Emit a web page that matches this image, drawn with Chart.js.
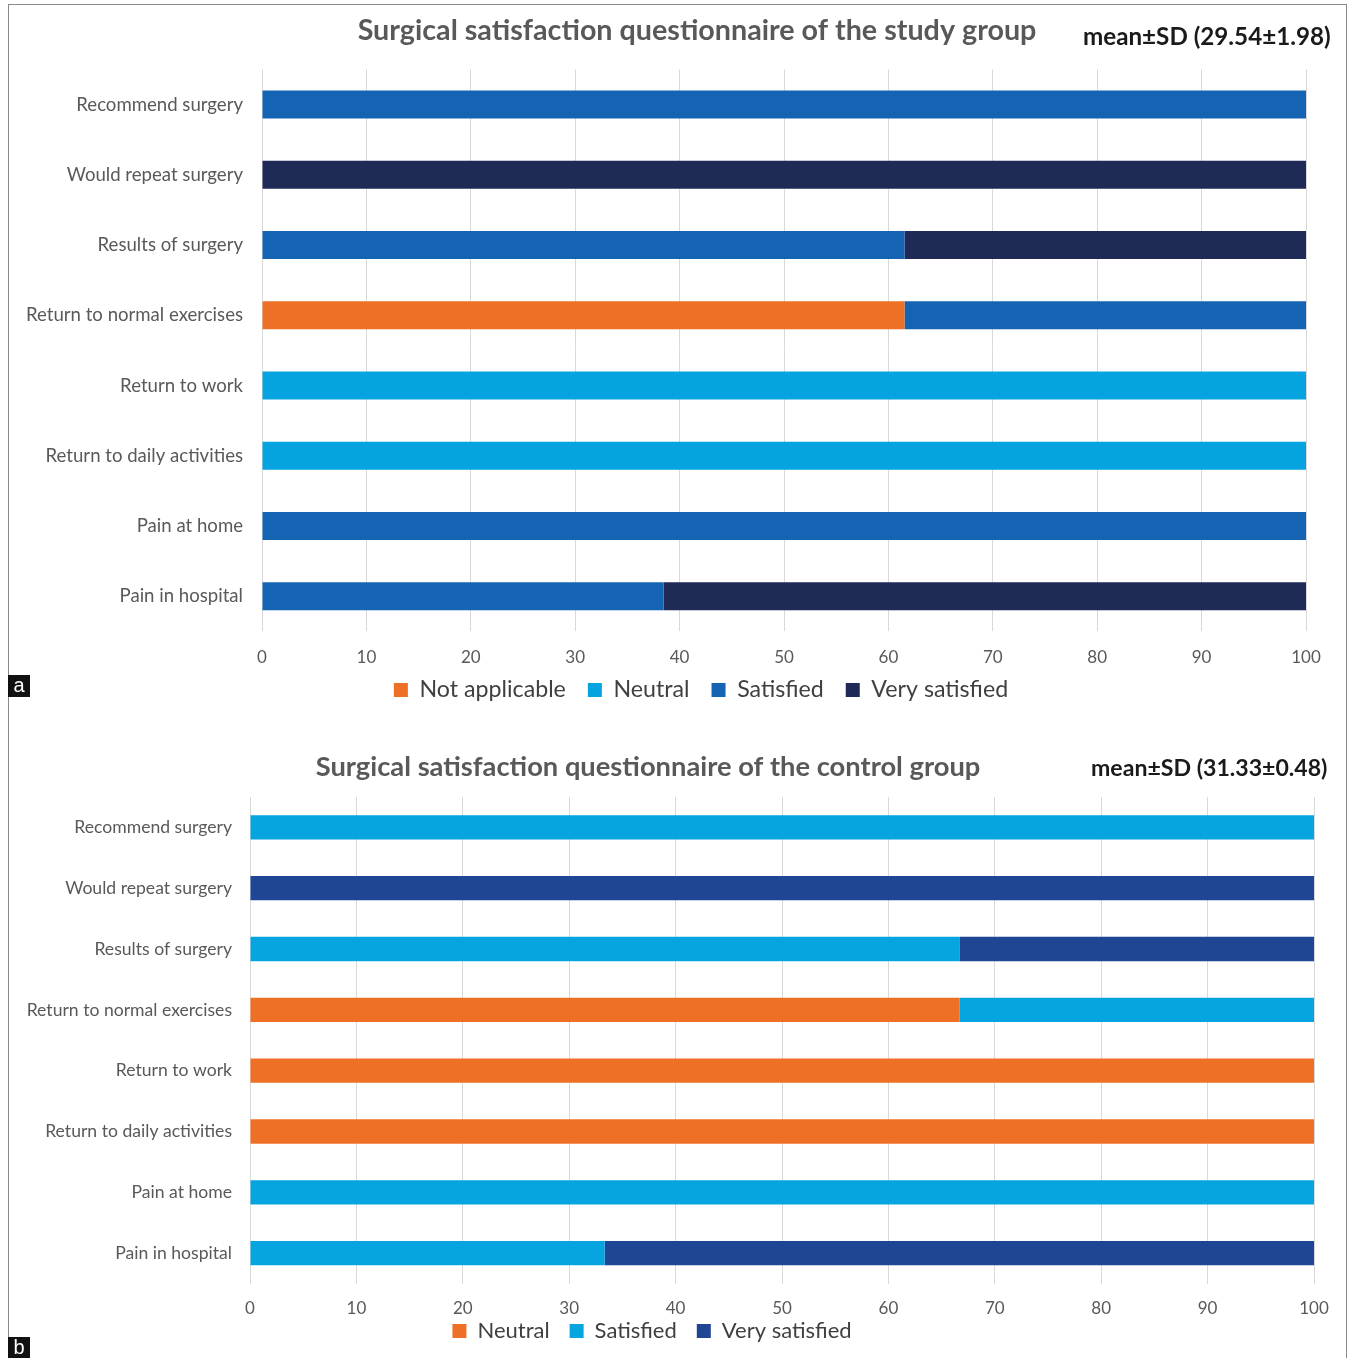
<!DOCTYPE html>
<html>
<head>
<meta charset="utf-8">
<script src="https://cdn.jsdelivr.net/npm/chart.js@4.4.1/dist/chart.umd.min.js"></script>
<style>
  html, body { margin: 0; padding: 0; background: #fff; }
  body { width: 1348px; height: 1358px; position: relative; overflow: hidden; font-family: Lato, "Open Sans", sans-serif; }
  .frame { position: absolute; left: 8px; top: 4px; width: 1339px; height: 1360px; border: 1px solid #8a8a8a; box-sizing: border-box; }
  .panel { position: absolute; }
  .stat { position: absolute; font-weight: bold; color: #1a1a1a; white-space: nowrap; line-height: 1.2; }
  .tag { position: absolute; left: 8px; width: 22px; height: 22px; background: #111; color: #fff; font-family: "Liberation Sans", Arial, sans-serif; font-size: 20px; line-height: 20px; text-align: center; }
</style>
</head>
<body>
<div class="frame"></div>

<div class="panel" style="left:0;top:0;width:1348px;height:739px;"><canvas id="chartA"></canvas></div>
<div class="panel" style="left:0;top:730px;width:1348px;height:656px;"><canvas id="chartB"></canvas></div>

<div class="stat" style="left:1083px;top:21px;font-size:24.2px;">mean±SD (29.54±1.98)</div>
<div class="stat" style="left:1091px;top:754px;font-size:23.1px;">mean±SD (31.33±0.48)</div>

<div class="tag" style="top:675px;">a</div>
<div class="tag" style="top:1337px;">b</div>

<script>
// Questionnaire items (shared by both groups), top to bottom
const items = [
  "Recommend surgery",
  "Would repeat surgery",
  "Results of surgery",
  "Return to normal exercises",
  "Return to work",
  "Return to daily activities",
  "Pain at home",
  "Pain in hospital"
];

const xTicks = [0, 10, 20, 30, 40, 50, 60, 70, 80, 90, 100];

// Study group, percentage of patients per response
const studyNotApplicable = [0, 0, 0, 61.54, 0, 0, 0, 0];
const studyNeutral       = [0, 0, 0, 0, 100, 100, 0, 0];
const studySatisfied     = [100, 0, 61.54, 38.46, 0, 0, 100, 38.46];
const studyVerySatisfied = [0, 100, 38.46, 0, 0, 0, 0, 61.54];

// Control group, percentage of patients per response
const controlNeutral       = [0, 0, 0, 66.67, 100, 100, 0, 0];
const controlSatisfied     = [100, 0, 66.67, 33.33, 0, 0, 100, 33.33];
const controlVerySatisfied = [0, 100, 33.33, 0, 0, 0, 0, 66.67];

const FONT = "Lato, 'Open Sans', sans-serif";
const TEXT = "#595959";

// Moves the title and legend boxes after layout so they sit centred on the figure
const boxShift = {
  id: "boxShift",
  afterLayout(chart, args, opts) {
    const t = chart.titleBlock, l = chart.legend;
    if (t) { t.left += opts.titleDx; t.right += opts.titleDx; }
    if (l) {
      l.left += opts.legendDx; l.right += opts.legendDx;
      l.top += opts.legendDy; l.bottom += opts.legendDy;
    }
  }
};

function makeChart(id, cfg) {
  return new Chart(document.getElementById(id), {
    type: "bar",
    data: { labels: items, datasets: cfg.datasets },
    plugins: [boxShift],
    options: {
      indexAxis: "y",
      responsive: true,
      maintainAspectRatio: false,
      animation: false,
      events: [],
      layout: { padding: { left: cfg.padLeft, right: cfg.padRight, top: 0, bottom: 0 } },
      datasets: { bar: { categoryPercentage: 1, barPercentage: 0.4, borderWidth: 0 } },
      scales: {
        x: {
          stacked: true, min: 0, max: 100,
          afterBuildTicks(s) { s.ticks = xTicks.map(v => ({ value: v })); },
          grid: { color: "#d9d9d9", lineWidth: 1, drawTicks: false },
          border: { display: false },
          ticks: { color: TEXT, font: { family: FONT, size: 17 }, padding: cfg.tickPad, maxRotation: 0 }
        },
        y: {
          stacked: true,
          grid: { display: false, drawTicks: false },
          border: { display: false },
          ticks: { color: TEXT, font: { family: FONT, size: cfg.ySize }, padding: cfg.yPad, autoSkip: false },
          afterFit(s) { s.width = cfg.yWidth; }
        }
      },
      plugins: {
        tooltip: { enabled: false },
        boxShift: cfg.shift,
        title: {
          display: true, text: cfg.title, color: TEXT,
          font: { family: FONT, size: cfg.titleSize, weight: "bold" },
          padding: cfg.titlePad
        },
        legend: {
          position: "bottom",
          labels: {
            color: "#404040", boxWidth: 14, boxHeight: 14, padding: cfg.legendPad,
            font: { family: FONT, size: cfg.legendSize }
          }
        }
      }
    }
  });
}

makeChart("chartA", {
  title: "Surgical satisfaction questionnaire of the study group",
  titleSize: 28.7, titlePad: { top: 14, bottom: 21 },
  padLeft: 20, padRight: 42, yWidth: 242, yPad: 19, ySize: 18.6,
  tickPad: 16, legendSize: 23.2, legendPad: 22,
  shift: { titleDx: 34, legendDx: 38, legendDy: -27.4 },
  datasets: [
    { label: "Not applicable", data: studyNotApplicable, backgroundColor: "#EE7026" },
    { label: "Neutral",        data: studyNeutral,       backgroundColor: "#05A3DF" },
    { label: "Satisfied",      data: studySatisfied,     backgroundColor: "#1464B3" },
    { label: "Very satisfied", data: studyVerySatisfied, backgroundColor: "#1F2A57" }
  ]
});

makeChart("chartB", {
  title: "Surgical satisfaction questionnaire of the control group",
  titleSize: 27.3, titlePad: { top: 20.6, bottom: 13.6 },
  padLeft: 20, padRight: 34, yWidth: 230, yPad: 18, ySize: 17.6,
  tickPad: 15, legendSize: 22, legendPad: 20,
  shift: { titleDx: -19, legendDx: -15, legendDy: -34 },
  datasets: [
    { label: "Neutral",        data: controlNeutral,       backgroundColor: "#EE7026" },
    { label: "Satisfied",      data: controlSatisfied,     backgroundColor: "#06A5DF" },
    { label: "Very satisfied", data: controlVerySatisfied, backgroundColor: "#1F4595" }
  ]
});
</script>
</body>
</html>
